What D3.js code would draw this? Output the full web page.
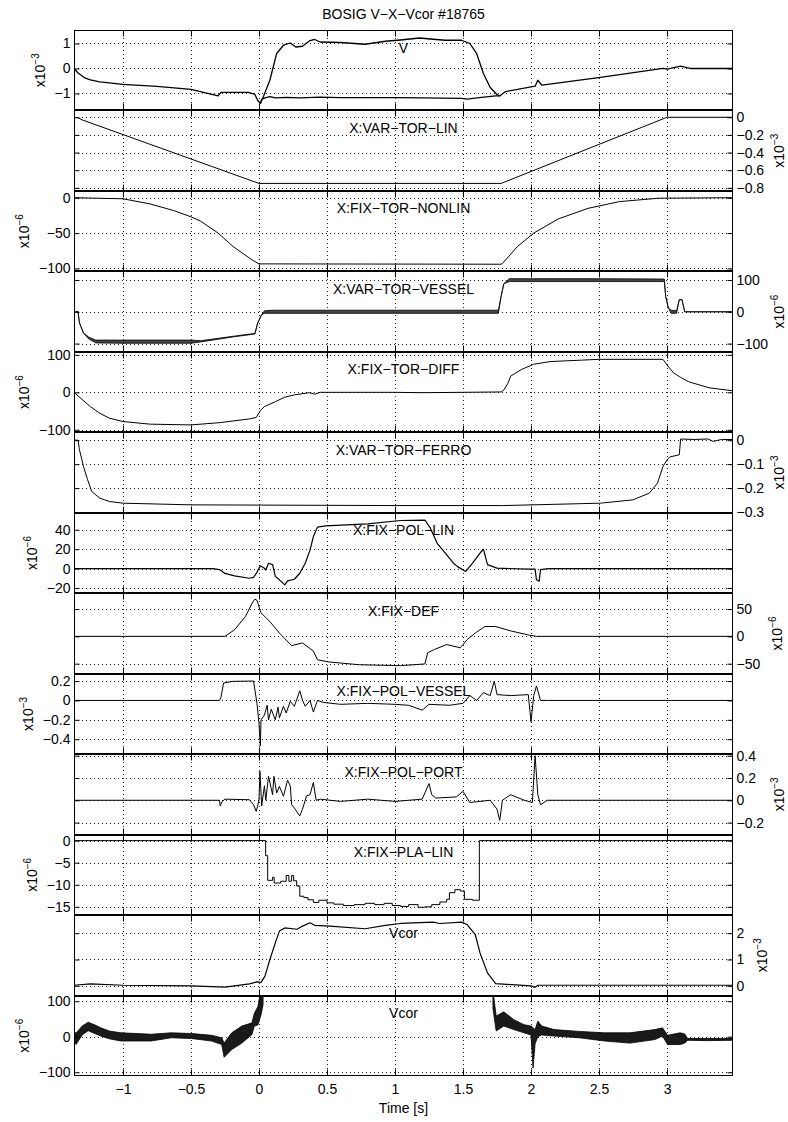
<!DOCTYPE html>
<html>
<head>
<meta charset="utf-8">
<script src="https://cdn.jsdelivr.net/npm/d3@7"></script>
<style>
  body { margin: 0; background: #fff; }
  svg text { font-family: "Liberation Sans", Arial, Helvetica, sans-serif; fill: #000; }
</style>
</head>
<body>
<svg id="chart" width="788" height="1122"></svg>
<script>
// ---- data, time in s ----
const xDomain = [-1.36, 3.485];
const xTicks = [-1, -0.5, 0, 0.5, 1, 1.5, 2, 2.5, 3];
const title = "BOSIG V\u2212X\u2212Vcor #18765";
const xTitle = "Time [s]";

const panelNames = ["V", "X:VAR\u2212TOR\u2212LIN", "X:FIX\u2212TOR\u2212NONLIN", "X:VAR\u2212TOR\u2212VESSEL",
  "X:FIX\u2212TOR\u2212DIFF", "X:VAR\u2212TOR\u2212FERRO", "X:FIX\u2212POL\u2212LIN", "X:FIX\u2212DEF",
  "X:FIX\u2212POL\u2212VESSEL", "X:FIX\u2212POL\u2212PORT", "X:FIX\u2212PLA\u2212LIN", "Vcor", "Vcor"];

// [t, value]
const vUpper = [[-1.36,0],[-1.33,-0.18],[-1.28,-0.38],[-1.24,-0.46],[-1.17,-0.54],[-1.0,-0.64],[-0.75,-0.72],
  [-0.5,-0.84],[-0.3,-1.1],[-0.28,-0.96],[-0.08,-0.96],[-0.03,-1.04],[-0.01,-1.27],[0.01,-1.4],[0.03,-1.16],
  [0.08,-0.47],[0.13,0.6],[0.18,0.93],[0.23,1.02],[0.27,0.86],[0.32,0.89],[0.37,1.1],[0.41,1.16],[0.45,1.06],
  [0.6,1.04],[0.78,0.97],[0.93,1.09],[1.04,1.14],[1.18,1.22],[1.28,1.17],[1.37,1.13],[1.49,1.13],[1.55,1.0],
  [1.6,0.6],[1.65,-0.2],[1.7,-0.76],[1.75,-1.04],[1.77,-1.1],[1.81,-0.93],[2.03,-0.71],[2.05,-0.47],
  [2.08,-0.67],[2.51,-0.36],[2.97,0],[3.0,-0.03],[3.1,0.09],[3.17,0],[3.485,0]];
const vLower = [[0.01,-1.4],[0.02,-1.23],[0.05,-1.17],[0.08,-1.13],[0.12,-1.18],[0.2,-1.16],[0.3,-1.18],
  [0.45,-1.15],[0.6,-1.17],[0.8,-1.17],[1.0,-1.17],[1.2,-1.18],[1.49,-1.2],[1.53,-1.23],[1.62,-1.17],
  [1.74,-1.1],[1.77,-1.1]];
const varTorLin = [[-1.36,0],[-1.33,-0.005],[-1.3,-0.03],[0,-0.75],[1.78,-0.75],[3.0,0],[3.485,0]];
const fixTorNonlin = [[-1.36,0],[-1.0,-1.5],[-0.8,-8.8],[-0.63,-18],[-0.5,-27],[-0.43,-33],[-0.3,-50],
  [-0.19,-69],[-0.05,-88],[0,-93.5],[1.78,-94],[1.79,-93],[1.9,-69],[2.02,-50],[2.2,-30],[2.42,-15],
  [2.65,-5.5],[2.94,-0.7],[3.485,0]];
// [t, low, high] : oscillation envelope
const varTorVessel = [[-1.36,0,0],[-1.33,0,0],[-1.32,-35,-35],[-1.29,-67,-67],[-1.25,-86,-80],[-1.2,-98,-89],
  [-1.0,-99,-89],[-0.5,-99,-89],[-0.43,-95,-91],[-0.19,-79,-77],[-0.03,-70,-68],[-0.01,-36,-36],
  [0.02,-9,-9],[0.04,-5,3],[0.1,-5,5],[1.0,-5,5],[1.76,-5,5],[1.78,48,48],[1.8,88,88],[1.84,95,104],
  [2.5,95,104],[2.98,95,103],[2.99,48,48],[3.01,12,12],[3.03,-5,5],[3.07,-5,3],[3.09,38,38],[3.11,38,38],
  [3.13,0,0],[3.485,0,0]];
const fixTorDiff = [[-1.36,0],[-1.32,-13],[-1.24,-38],[-1.17,-56],[-1.1,-69],[-1.0,-78],[-0.8,-85],
  [-0.5,-87],[-0.29,-81],[-0.07,-71],[-0.02,-67],[0.01,-49],[0.04,-38],[0.12,-25],[0.19,-13],[0.26,-7],
  [0.37,-1],[0.41,-5],[0.45,0],[1.0,0],[1.2,-1],[1.5,0],[1.78,1],[1.8,6],[1.83,24],[1.85,43],[1.93,61],
  [2.02,75],[2.14,82],[2.5,88],[2.97,88],[3.0,73],[3.05,51],[3.07,47],[3.09,42],[3.1,40],[3.16,28],
  [3.31,12],[3.485,4]];
const varTorFerro = [[-1.36,0],[-1.33,0],[-1.32,-0.04],[-1.29,-0.11],[-1.26,-0.165],[-1.23,-0.214],
  [-1.17,-0.242],[-1.1,-0.256],[-1.0,-0.263],[-0.5,-0.27],[1.0,-0.273],[1.8,-0.273],[2.51,-0.263],
  [2.75,-0.249],[2.87,-0.221],[2.93,-0.179],[2.97,-0.11],[3.0,-0.082],[3.02,-0.07],[3.09,-0.061],
  [3.1,0.005],[3.2,0.003],[3.3,0.005],[3.34,-0.005],[3.4,0.003],[3.485,0.003]];
const fixPolLin = [[-1.36,0],[-0.34,0],[-0.29,-1],[-0.25,-5],[-0.18,-7.5],[-0.07,-10],[-0.04,-9],[-0.02,-5],
  [0.01,2.8],[0.04,0.3],[0.05,-1.5],[0.07,5.5],[0.1,4],[0.12,-8],[0.15,-11.6],[0.19,-16.8],[0.21,-12.6],
  [0.26,-11],[0.3,-4.8],[0.34,5.5],[0.375,19],[0.4,33],[0.43,42.7],[0.49,44],[0.8,46],[1.04,49.5],
  [1.22,50],[1.26,41.6],[1.31,26],[1.37,16],[1.43,5.5],[1.46,2],[1.52,-3],[1.57,5.5],[1.625,15.8],
  [1.65,20],[1.68,4],[1.75,0.4],[1.99,-0.6],[2.03,-0.5],[2.04,-11.6],[2.06,-13],[2.07,-1],[2.13,0],[3.485,0]];
const fixDef = [[-1.36,0],[-0.25,0],[-0.18,12],[-0.1,36],[-0.05,61],[-0.03,68],[-0.015,66],[0.015,43],
  [0.08,27],[0.15,6],[0.24,-17],[0.32,-12],[0.4,-27],[0.43,-43],[0.52,-47],[0.74,-52],[1.04,-53.6],
  [1.22,-50.5],[1.24,-30],[1.29,-24],[1.38,-15],[1.48,-21],[1.53,-6],[1.59,6],[1.66,18],[1.74,18],
  [1.85,10],[1.99,2],[2.04,0],[3.485,0]];
const fixPolVessel = [[-1.36,0],[-0.29,0],[-0.28,0.03],[-0.26,0.18],[-0.19,0.197],[-0.04,0.2],[-0.03,0.11],
  [-0.015,-0.03],[0.0,-0.23],[0.01,-0.47],[0.015,-0.2],[0.04,-0.15],[0.06,-0.05],[0.07,-0.2],[0.09,-0.09],
  [0.12,-0.2],[0.14,-0.07],[0.15,-0.18],[0.18,-0.06],[0.2,-0.13],[0.23,-0.01],[0.26,-0.06],[0.3,0.1],
  [0.32,0.0],[0.34,-0.06],[0.375,0],[0.4,-0.12],[0.43,0.0],[0.47,-0.02],[0.6,-0.04],[0.8,-0.03],[1.0,-0.04],
  [1.1,-0.05],[1.2,-0.1],[1.25,-0.04],[1.4,-0.05],[1.5,-0.03],[1.55,0.05],[1.6,0.0],[1.65,0.08],[1.7,0.05],
  [1.73,0.2],[1.75,0.06],[1.85,0.05],[1.98,0.06],[2.0,-0.22],[2.02,0.05],[2.04,0.15],[2.07,0.0],[2.12,0],[3.485,0]];
const fixPolPort = [[-1.36,0],[-0.29,0],[-0.285,-0.05],[-0.27,-0.01],[-0.25,0.01],[-0.07,0.005],[-0.04,-0.04],
  [-0.02,-0.1],[0,0],[0.007,0.26],[0.02,-0.05],[0.04,0.13],[0.05,0],[0.07,0.215],[0.1,0.05],[0.11,0.215],
  [0.13,0.065],[0.15,0.125],[0.18,0.036],[0.21,0.18],[0.23,0.13],[0.24,-0.04],[0.26,-0.07],[0.3,-0.14],
  [0.32,-0.08],[0.35,0.04],[0.375,0.05],[0.4,0.16],[0.42,0],[0.45,0.01],[0.6,-0.01],[0.8,0.01],[1.0,-0.01],
  [1.2,0.01],[1.25,0.15],[1.27,0.05],[1.3,0.02],[1.45,0.03],[1.5,0.08],[1.55,-0.02],[1.7,0.0],[1.75,-0.08],
  [1.77,-0.18],[1.79,0],[1.85,0.05],[1.95,0.0],[2.01,-0.02],[2.03,0.4],[2.05,0.05],[2.07,-0.04],[2.12,0],[3.485,0]];
const fixPlaLin = [[-1.36,0],[0.049,-3.4],[0.064,-9],[0.1,-8.3],[0.112,-9.6],[0.16,-9.2],[0.2,-7.9],
  [0.22,-9.2],[0.24,-7.9],[0.255,-9.1],[0.277,-10.3],[0.3,-12.6],[0.33,-12.9],[0.36,-13.4],[0.4,-14.0],
  [0.44,-13.5],[0.5,-14.1],[0.55,-14.4],[0.62,-14.7],[0.7,-14.5],[0.78,-14.2],[0.85,-14.5],[0.92,-14.2],
  [0.98,-14.7],[1.04,-14.9],[1.1,-14.5],[1.17,-15.1],[1.22,-15],[1.27,-14.5],[1.33,-13.9],[1.38,-13.3],
  [1.4,-11.8],[1.44,-11.1],[1.48,-11.4],[1.51,-13.3],[1.57,-13.5],[1.62,0],[3.485,0]];
const vcorA = [[-1.36,0.02],[-1.24,0.07],[-1.0,0.02],[-0.5,0.0],[-0.25,-0.05],[-0.07,0.07],[-0.015,0.15],
  [0.015,0.13],[0.044,0.37],[0.08,1.0],[0.12,1.63],[0.15,2.08],[0.19,2.2],[0.28,2.15],[0.32,2.27],
  [0.375,2.4],[0.41,2.3],[0.52,2.27],[0.78,2.17],[0.93,2.3],[1.04,2.37],[1.28,2.42],[1.33,2.37],[1.49,2.42],
  [1.53,2.33],[1.59,1.95],[1.625,1.25],[1.68,0.49],[1.74,0.08],[2.0,0.0],[2.03,-0.06],[2.05,0.02],[3.485,0.02]];
// [t, low, high] : noise envelope
const vcorLeft = [[-1.36,-16,14],[-1.345,-22,10],[-1.3,5,30],[-1.256,17,41],[-1.2,8,32],[-1.163,2,25],
  [-1.1,-6,16],[-1.015,-12,11],[-0.9,-12,9],[-0.793,-12,7],[-0.645,-3,11],[-0.497,-5,9],[-0.349,-12,4],
  [-0.274,-22,-3],[-0.256,-58,-18],[-0.2,-36,11],[-0.126,-18,30],[-0.052,6,39],[-0.034,30,66],
  [-0.008,33,85],[0.014,60,130],[0.03,90,130]];
const vcorRight = [[1.72,80,130],[1.744,16,58],[1.8,30,70],[1.874,20,48],[1.948,11,34],[2.0,5,30],
  [2.015,-88,25],[2.03,-20,20],[2.05,0,44],[2.078,5,30],[2.17,2,20],[2.355,-3,15],[2.54,-12,11],
  [2.726,-18,11],[2.911,-8,20],[2.967,2,25],[3.004,-22,4],[3.096,-22,11],[3.13,-18,8],[3.152,-10,-5],
  [3.3,-11,-5],[3.485,-10,-5]];

const yTicks = [[-1,0,1],[-0.8,-0.6,-0.4,-0.2,0],[-100,-50,0],[-100,0,100],[-100,0,100],[-0.3,-0.2,-0.1,0],
  [-20,0,20,40],[-50,0,50],[-0.4,-0.2,0,0.2],[-0.2,0,0.2,0.4],[-15,-10,-5,0],[0,1,2],[-100,0,100]];
const yExp = ["\u22123","\u22123","\u22126","\u22126","\u22126","\u22123","\u22126","\u22126","\u22123","\u22123","\u22126","\u22123","\u22126"];

// ---- layout ----
const left = 74, right = 733, top0 = 30, panelH = 80.46;
const panels = [
  {lines: [vUpper, vLower], bands: [], side: 'left', domain: [-1.68, 1.54], lw: 1.3},
  {lines: [varTorLin], bands: [], side: 'right', domain: [-0.835, 0.077]},
  {lines: [fixTorNonlin], bands: [], side: 'left', domain: [-104.1, 9.6]},
  {lines: [], bands: [varTorVessel], side: 'right', domain: [-126, 127], fill: '#444'},
  {lines: [fixTorDiff], bands: [], side: 'left', domain: [-106.7, 108]},
  {lines: [varTorFerro], bands: [], side: 'right', domain: [-0.303, 0.033]},
  {lines: [fixPolLin], bands: [], side: 'left', domain: [-25.4, 57.5], lw: 1.2},
  {lines: [fixDef], bands: [], side: 'right', domain: [-68.3, 78.9]},
  {lines: [fixPolVessel], bands: [], side: 'left', domain: [-0.554, 0.276]},
  {lines: [fixPolPort], bands: [], side: 'right', domain: [-0.308, 0.414]},
  {lines: [fixPlaLin], bands: [], side: 'left', domain: [-16.86, 1.36], step: true},
  {lines: [vcorA], bands: [], side: 'right', domain: [-0.37, 2.69], lw: 1.2},
  {lines: [], bands: [vcorLeft, vcorRight], side: 'left', domain: [-110.5, 116], fill: '#1a1a1a'}
];

const fmt = v => (v < 0 ? "\u2212" : "") + Math.abs(v);
const svg = d3.select('#chart');
const x = d3.scaleLinear().domain(xDomain).range([left, right]);
const FS = 14;

svg.append('text').attr('x', 403.5).attr('y', 18.5).attr('text-anchor', 'middle')
  .attr('font-size', FS).text(title);

panels.forEach((p, i) => {
  const t = top0 + i * panelH, b = t + panelH;
  const tb = Math.round(t), bb = Math.round(b);
  const y = d3.scaleLinear().domain(p.domain).range([b, t]);
  const g = svg.append('g');

  const cid = 'clip' + i;
  svg.append('clipPath').attr('id', cid).append('rect')
    .attr('x', left).attr('y', tb).attr('width', right - left).attr('height', bb - tb);

  // dotted grid
  g.selectAll('.gx').data(xTicks).enter().append('line')
    .attr('x1', d => Math.round(x(d)) + 0.5).attr('x2', d => Math.round(x(d)) + 0.5)
    .attr('y1', tb).attr('y2', bb)
    .attr('stroke', '#222').attr('stroke-width', 1).attr('stroke-dasharray', '1,3');
  g.selectAll('.gy').data(yTicks[i]).enter().append('line')
    .attr('x1', left).attr('x2', right)
    .attr('y1', d => Math.round(y(d)) + 0.5).attr('y2', d => Math.round(y(d)) + 0.5)
    .attr('stroke', '#222').attr('stroke-width', 1).attr('stroke-dasharray', '1,3');

  const dg = g.append('g').attr('clip-path', `url(#${cid})`);
  const line = d3.line().x(d => x(d[0])).y(d => y(d[1]));
  if (p.step) line.curve(d3.curveStepAfter);
  p.lines.forEach(s => {
    dg.append('path').attr('d', line(s)).attr('fill', 'none')
      .attr('stroke', '#000').attr('stroke-width', p.lw || 1).attr('stroke-linejoin', 'round');
  });
  const area = d3.area().x(d => x(d[0])).y0(d => y(d[1])).y1(d => y(d[2]));
  p.bands.forEach(s => {
    dg.append('path').attr('d', area(s)).attr('fill', p.fill)
      .attr('stroke', '#000').attr('stroke-width', 0.8).attr('stroke-linejoin', 'round');
  });

  // box
  g.append('rect').attr('x', left + 0.5).attr('y', tb + 0.5)
    .attr('width', right - left - 1).attr('height', bb - tb - 1)
    .attr('fill', 'none').attr('stroke', '#000').attr('stroke-width', 1);

  // x ticks (inward, top and bottom)
  const last = i === panels.length - 1;
  const axB = g.append('g').attr('transform', `translate(0,${bb - 0.5})`)
    .call(d3.axisBottom(x).tickValues(xTicks).tickSize(-6).tickSizeOuter(0).tickPadding(9)
      .tickFormat(last ? fmt : ''));
  const axT = g.append('g').attr('transform', `translate(0,${tb + 0.5})`)
    .call(d3.axisTop(x).tickValues(xTicks).tickSize(-6).tickSizeOuter(0).tickFormat(''));
  // y ticks (inward, both sides)
  const axL = g.append('g').attr('transform', `translate(${left + 0.5},0)`)
    .call(d3.axisLeft(y).tickValues(yTicks[i]).tickSize(-5).tickSizeOuter(0).tickPadding(4)
      .tickFormat(p.side === 'left' ? fmt : ''));
  const axR = g.append('g').attr('transform', `translate(${right - 0.5},0)`)
    .call(d3.axisRight(y).tickValues(yTicks[i]).tickSize(-5).tickSizeOuter(0).tickPadding(4)
      .tickFormat(p.side === 'right' ? fmt : ''));
  [axB, axT, axL, axR].forEach(a => {
    a.select('.domain').remove();
    a.selectAll('line').attr('stroke', '#000');
    a.selectAll('text').attr('font-size', FS).attr('font-family', null).attr('fill', '#000');
  });

  // panel name
  g.append('text').attr('x', 403.5).attr('y', t + 22.5).attr('text-anchor', 'middle')
    .attr('font-size', FS).text(panelNames[i]);

  // exponent label
  const labAxis = p.side === 'left' ? axL : axR;
  const boxes = labAxis.selectAll('text').nodes().map(n => n.getBBox());
  const bx = p.side === 'left'
    ? left + 0.5 + d3.min(boxes, d => d.x) - 10
    : Math.min(784, right - 0.5 + d3.max(boxes, d => d.x + d.width) + 22);
  const cy = (t + b) / 2;
  const lab = g.append('text').attr('transform', `translate(${bx},${cy}) rotate(-90)`)
    .attr('text-anchor', 'middle').attr('font-size', FS);
  lab.append('tspan').text('x10');
  lab.append('tspan').attr('dy', -6).attr('font-size', 10).text(yExp[i]);
});

svg.append('text').attr('x', 403.5).attr('y', 1113).attr('text-anchor', 'middle')
  .attr('font-size', FS).text(xTitle);
</script>
</body>
</html>
